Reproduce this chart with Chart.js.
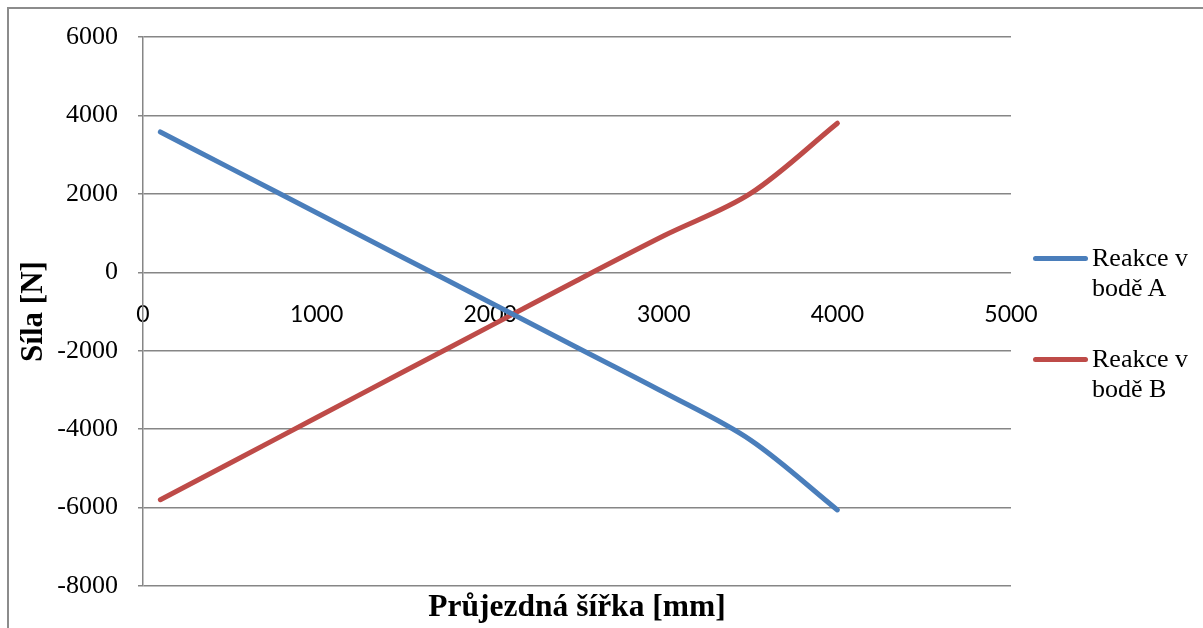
<!DOCTYPE html>
<html lang="cs">
<head>
  <meta charset="UTF-8">
  <title>Reakce v bodech A a B</title>
  <script src="https://cdn.jsdelivr.net/npm/chart.js"></script>
  <style>
    html, body { margin: 0; padding: 0; background: #fff; }
    .wrap { position: relative; width: 1203px; height: 628px; overflow: hidden; }
    canvas { display: block; }
    .frame { position: absolute; left: 7px; top: 7px; width: 1300px; height: 700px; border-left: 2px solid #8c8c8c; border-top: 2px solid #8c8c8c; pointer-events: none; }
    .legend { position: absolute; left: 1033px; top: 0; font-family: "Liberation Serif", "Times New Roman", serif; font-size: 26px; line-height: 30px; color: #000; }
    .legend .line { position: absolute; left: 0; width: 55px; height: 5px; border-radius: 2.5px; }
    .legend .text { position: absolute; left: 59px; white-space: nowrap; }
  </style>
</head>
<body>
  <div class="wrap">
    <canvas id="chart" width="1203" height="628"></canvas>
    <div class="frame"></div>
    <div class="legend" id="legend"></div>
  </div>

  <script>
    // průjezdná šířka [mm]
    const widths = [100, 500, 1000, 1500, 2000, 2500, 3000, 3500, 4000];
    // reakce [N]
    const reactionA = [3578, 2662, 1518, 373, -771, -1916, -3060, -4280, -6061];
    const reactionB = [-5800, -4868, -3703, -2538, -1373, -208, 930, 2010, 3800];
    const seriesNames = [['Reakce v', 'bodě A'], ['Reakce v', 'bodě B']];
    const seriesColors = ['#4a7ebb', '#be4b48'];
    const xTicks = [0, 1000, 2000, 3000, 4000, 5000];
    const yTicks = [-8000, -6000, -4000, -2000, 0, 2000, 4000, 6000];

    const gridColor = '#868686';
    const serif = '"Liberation Serif", "Times New Roman", serif';

    function points(ys) {
      return widths.map((x, i) => ({ x: x, y: ys[i] }));
    }

    const datasets = [reactionA, reactionB].map((ys, i) => ({
      label: seriesNames[i].join(' '),
      data: points(ys),
      showLine: true,
      borderColor: seriesColors[i],
      backgroundColor: seriesColors[i],
      borderWidth: 5,
      borderCapStyle: 'round',
      borderJoinStyle: 'round',
      tension: 0.33,
      pointRadius: 0,
      pointHoverRadius: 0
    }));

    new Chart(document.getElementById('chart'), {
      type: 'scatter',
      data: { datasets: datasets },
      options: {
        responsive: false,
        animation: false,
        layout: { padding: { left: 0, right: 192, top: 37, bottom: 0 } },
        plugins: {
          legend: { display: false },
          tooltip: { enabled: false }
        },
        scales: {
          x: {
            type: 'linear',
            position: { y: 0 },
            min: xTicks[0],
            max: xTicks[xTicks.length - 1],
            afterBuildTicks: (s) => { s.ticks = xTicks.map(v => ({ value: v })); },
            grid: { display: false, drawTicks: false },
            border: { display: false },
            ticks: {
              padding: 28,
              color: '#000',
              font: { family: 'Lato', size: 23, lineHeight: 1.2 },
              callback: (v) => String(v)
            }
          },
          x2: {
            type: 'linear',
            position: 'bottom',
            min: xTicks[0],
            max: xTicks[xTicks.length - 1],
            grid: { display: false, drawTicks: false },
            border: { display: false },
            ticks: { display: false },
            afterFit: (s) => { s.height = 42; },
            title: {
              display: true,
              text: 'Průjezdná šířka [mm]',
              color: '#000',
              padding: { top: 0, bottom: 1 },
              font: { family: serif, size: 31.5, weight: 'bold', lineHeight: 1.2 }
            }
          },
          y: {
            type: 'linear',
            position: 'left',
            min: yTicks[0],
            max: yTicks[yTicks.length - 1],
            afterBuildTicks: (s) => { s.ticks = yTicks.map(v => ({ value: v })); },
            afterFit: (s) => { s.width = 143; },
            grid: { color: gridColor, lineWidth: 1.5, tickLength: 5, drawTicks: true },
            border: { display: true, color: gridColor, width: 1.5 },
            ticks: {
              padding: 20,
              color: '#000',
              font: { family: serif, size: 26 },
              callback: (v) => String(v)
            },
            title: {
              display: true,
              text: 'Síla [N]',
              color: '#000',
              padding: { top: 15, bottom: 0 },
              font: { family: serif, size: 31, weight: 'bold', lineHeight: 1.2 }
            }
          }
        }
      }
    });

    // legenda vpravo (dvouřádkové popisky)
    const legend = document.getElementById('legend');
    const legendTops = [243, 344];
    seriesNames.forEach((name, i) => {
      const line = document.createElement('div');
      line.className = 'line';
      line.style.background = seriesColors[i];
      line.style.top = (legendTops[i] + 13) + 'px';
      legend.appendChild(line);
      const text = document.createElement('div');
      text.className = 'text';
      text.style.top = legendTops[i] + 'px';
      text.innerHTML = name.join('<br>');
      legend.appendChild(text);
    });
  </script>
</body>
</html>
